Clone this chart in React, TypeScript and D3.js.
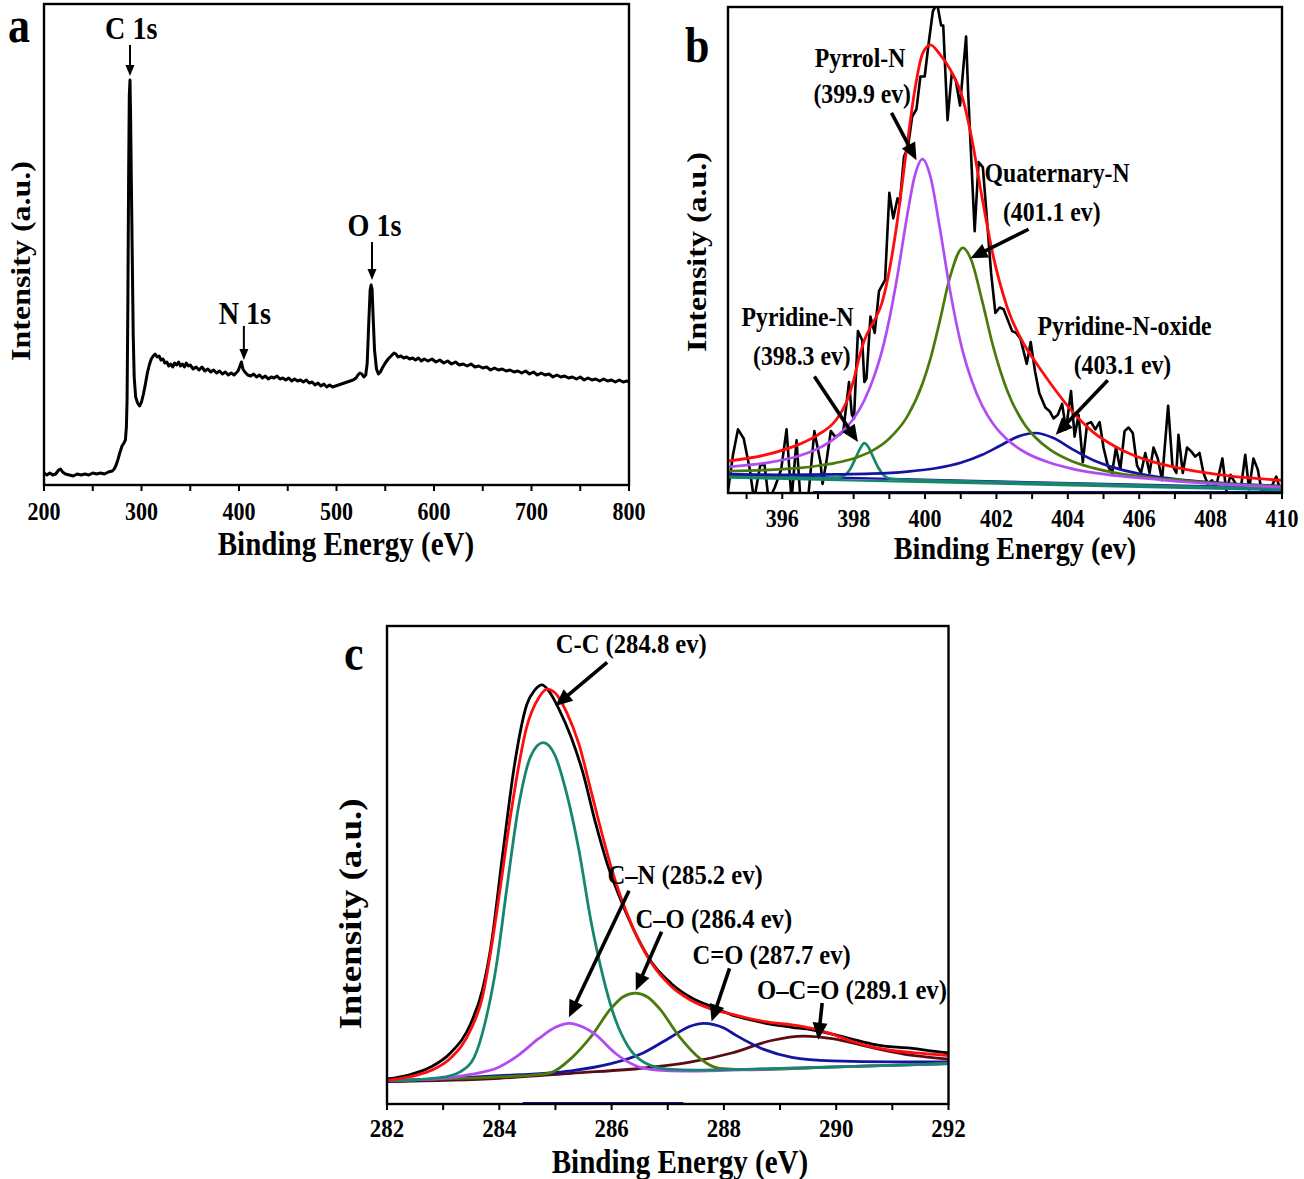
import React from 'react';
import * as d3 from 'd3';

type Pt = [number, number];

const FONT = "'Liberation Serif','Times New Roman',Times,serif";

// ---------- panel a : survey spectrum (binding energy eV, intensity a.u.) ----------
const surveyA: Pt[] = [
  [200, 12], [203, 10], [206, 12], [209, 10], [212, 11], [215, 15], [217, 16], [219, 13], [222, 11], [226, 10],
  [230, 9], [234, 11], [238, 10], [242, 11], [246, 10], [250, 12], [254, 11], [258, 12], [262, 11], [266, 13],
  [270, 14], [272, 16], [274, 20], [276, 26], [278, 33], [280, 39], [282, 42], [283.5, 45], [284.5, 58], [285.2, 85],
  [286, 180], [286.8, 310], [287.5, 390], [288.2, 405], [288.8, 370], [289.5, 310], [290.5, 230], [291.5, 150], [292.5, 108], [294, 88],
  [296, 82], [298, 79], [300, 83], [302, 91], [304, 101], [306, 112], [308, 120], [310, 126], [312, 129], [314, 131],
  [316, 128], [318, 129], [320, 125], [322, 126], [324, 122], [326, 123], [328, 119], [330, 121], [332, 118], [334, 122],
  [336, 120], [338, 123], [340, 119], [342, 121], [344, 118], [346, 122], [348, 119], [350, 120], [353, 116], [356, 118],
  [359, 115], [362, 118], [365, 114], [368, 116], [371, 113], [374, 115], [377, 112], [380, 114], [383, 111], [386, 113],
  [389, 110], [392, 112], [395, 110], [397, 112], [399, 114], [401, 119], [402.5, 123], [404, 116], [406, 113], [409, 110],
  [412, 109], [415, 111], [418, 108], [421, 110], [424, 107], [427, 109], [430, 106], [433, 108], [436, 107], [439, 109],
  [442, 106], [445, 107], [448, 105], [451, 107], [454, 104], [457, 106], [460, 104], [463, 105], [466, 103], [469, 105],
  [472, 102], [475, 103], [478, 100], [481, 102], [484, 99], [487, 101], [490, 98], [493, 100], [496, 98], [499, 99],
  [502, 100], [505, 101], [508, 102], [511, 103], [514, 104], [517, 105], [520, 107], [522, 110], [524, 112], [526, 111],
  [528, 108], [530, 110], [531.5, 122], [533, 160], [534.5, 195], [535.5, 200], [536.5, 196], [537.5, 170], [539, 135], [541, 116],
  [543, 111], [545, 113], [547, 117], [550, 122], [553, 126], [556, 129], [559, 132], [561, 131], [563, 128], [566, 129],
  [569, 127], [572, 128], [575, 126], [578, 127], [581, 125], [584, 127], [587, 124], [590, 126], [594, 124], [598, 126],
  [602, 123], [606, 125], [610, 122], [614, 124], [618, 121], [622, 123], [626, 120], [630, 121], [634, 119], [638, 121],
  [642, 118], [646, 119], [650, 117], [654, 118], [658, 115], [662, 117], [666, 115], [670, 116], [674, 114], [678, 115],
  [682, 113], [686, 114], [690, 112], [694, 114], [698, 111], [702, 113], [706, 110], [710, 112], [714, 110], [718, 111],
  [722, 108], [726, 110], [730, 108], [734, 109], [738, 107], [742, 108], [746, 106], [750, 108], [754, 105], [758, 107],
  [762, 105], [766, 106], [770, 104], [774, 106], [778, 104], [782, 105], [786, 103], [790, 105], [794, 103], [798, 104],
  [800, 103],
];

// ---------- panel b : N 1s ----------
const rawB: Pt[] = [
  [394.48, 5], [394.62, 105], [394.76, 175], [394.92, 150], [395.09, 65], [395.21, -20], [395.38, 75], [395.5, 80], [395.62, -20], [395.79, 15],
  [395.97, 65], [396.12, 175], [396.26, -20], [396.4, 145], [396.51, -20], [396.72, -20], [396.9, 170], [397.07, 85], [397.13, 25], [397.25, 95],
  [397.36, 170], [397.48, 155], [397.6, 160], [397.71, 170], [397.87, 305], [397.95, 215], [398.01, 205], [398.12, 445], [398.24, 420], [398.3, 305],
  [398.36, 315], [398.47, 485], [398.59, 440], [398.71, 555], [398.82, 575], [398.88, 585], [399.0, 825], [399.11, 755], [399.23, 810], [399.29, 795],
  [399.41, 925], [399.52, 950], [399.64, 1035], [399.76, 1055], [399.87, 1145], [399.99, 1145], [400.1, 1235], [400.22, 1325], [400.34, 1345], [400.45, 1285],
  [400.51, 1285], [400.63, 1025], [400.75, 1155], [400.86, 1135], [400.98, 1065], [401.15, 1255], [401.21, 1095], [401.39, 720], [401.5, 910], [401.62, 895],
  [401.74, 745], [401.85, 605], [401.97, 495], [402.09, 510], [402.2, 505], [402.44, 445], [402.55, 440], [402.67, 425], [402.85, 355], [402.96, 415],
  [403.08, 335], [403.2, 275], [403.37, 235], [403.49, 225], [403.6, 205], [403.72, 215], [403.84, 245], [403.95, 175], [404.09, 280], [404.19, 155],
  [404.3, 215], [404.42, 85], [404.54, 190], [404.65, 195], [404.77, 175], [404.89, 195], [405.0, 125], [405.12, 75], [405.24, 55], [405.35, 125],
  [405.47, 65], [405.59, 170], [405.7, 180], [405.82, 165], [405.94, 75], [406.05, 55], [406.17, 110], [406.29, 55], [406.4, 125], [406.52, 95],
  [406.64, 35], [406.81, 240], [406.93, 75], [407.04, 55], [407.1, 160], [407.22, 55], [407.34, 125], [407.45, 115], [407.57, 100], [407.69, 110],
  [407.8, 55], [407.92, 25], [408.04, 35], [408.15, 15], [408.33, 95], [408.44, 5], [408.56, 50], [408.73, 20], [408.85, 15], [408.97, 105],
  [409.08, 10], [409.2, 95], [409.32, 65], [409.43, 5], [409.67, 10], [409.84, 45], [409.96, 5],
];
const envelopeB: Pt[] = [
  [394.5, 88], [395.5, 104], [396.5, 135], [397.0, 160], [397.5, 200], [397.8, 250], [398.0, 310], [398.15, 370], [398.3, 420], [398.45, 452],
  [398.6, 478], [398.8, 525], [399.0, 612], [399.2, 732], [399.5, 958], [399.7, 1100], [399.93, 1208], [400.15, 1232], [400.4, 1208], [400.7, 1165],
  [401.06, 1083], [401.3, 979], [401.6, 811], [401.9, 656], [402.3, 511], [402.8, 404], [403.08, 362], [403.5, 303], [404.1, 227], [404.7, 168],
  [405.4, 124], [406.2, 91], [407.2, 67], [408.5, 47], [410, 35],
];
const pyrrolicB: Pt[] = [
  [394.5, 72], [395.5, 82], [396.5, 103], [397.0, 122], [397.5, 153], [397.8, 181], [398.0, 205], [398.3, 255], [398.6, 328], [398.8, 393],
  [399.0, 478], [399.2, 582], [399.5, 763], [399.7, 867], [399.93, 918], [400.15, 870], [400.4, 737], [400.7, 557], [401.06, 388], [401.3, 311],
  [401.6, 240], [401.9, 191], [402.3, 147], [402.8, 112], [403.5, 83], [404.1, 67], [404.7, 56], [405.4, 47], [406.2, 40], [407.2, 31],
  [408.5, 23], [410, 16],
];
const quaternaryB: Pt[] = [
  [394.5, 60], [395.5, 63], [396.5, 69], [397.0, 75], [397.5, 83], [398.0, 95], [398.5, 115], [399.0, 150], [399.5, 210], [399.93, 301],
  [400.15, 369], [400.4, 467], [400.7, 594], [401.06, 674], [401.3, 639], [401.6, 528], [401.9, 406], [402.3, 282], [402.8, 187], [403.08, 154],
  [403.5, 119], [404.1, 88], [404.7, 69], [405.4, 54], [406.2, 44], [407.2, 35], [408.5, 25], [410, 18],
];
const pyridinicB: Pt[] = [
  [394.5, 47], [395.5, 45], [396.5, 42], [397.0, 41], [397.5, 41], [397.7, 46], [397.9, 65], [398.05, 95], [398.18, 122], [398.3, 137],
  [398.42, 125], [398.55, 98], [398.7, 68], [398.85, 48], [399.0, 40], [399.3, 37], [400, 35], [402, 30], [404, 26], [406, 21],
  [408, 16], [410, 12],
];
const oxideB: Pt[] = [
  [394.5, 52], [396.0, 50], [397.5, 51], [398.5, 53], [399.5, 59], [400.3, 68], [401.0, 83], [401.6, 105], [402.1, 130], [402.6, 155],
  [403.08, 165], [403.6, 151], [404.1, 122], [404.7, 91], [405.4, 67], [406.2, 49], [407.2, 36], [408.5, 26], [410, 19],
];
const baseNavyB: Pt[] = [[394.5, 49], [410, 14]];
const baseTealB: Pt[] = [[394.5, 42], [410, 8]];
const floorB: Pt[] = [[396.86, 3], [410, 3]];

// ---------- panel c : C 1s ----------
const rawC: Pt[] = [
  [282.0, 70], [282.4, 82], [282.77, 103], [283.13, 143], [283.49, 225], [283.7, 320], [283.85, 440], [284.06, 700], [284.27, 950], [284.49, 1120],
  [284.63, 1160], [284.76, 1175], [284.88, 1158], [285.06, 1108], [285.28, 1028], [285.49, 928], [285.71, 790], [285.92, 675], [286.13, 585], [286.42, 480],
  [286.71, 398], [287.06, 338], [287.42, 298], [287.78, 273], [288.14, 250], [288.5, 235], [288.85, 223], [289.21, 215], [289.57, 208], [289.93, 196],
  [290.28, 182], [290.64, 168], [291.0, 160], [291.36, 156], [291.71, 148], [292.0, 143],
];
const envelopeC: Pt[] = [
  [282.0, 66], [282.4, 76], [282.77, 93], [283.13, 128], [283.49, 208], [283.7, 300], [283.85, 430], [284.03, 620], [284.2, 808], [284.49, 1058],
  [284.7, 1138], [284.85, 1163], [284.99, 1153], [285.2, 1098], [285.42, 1008], [285.63, 880], [285.85, 745], [285.99, 665], [286.35, 505], [286.71, 395],
  [287.06, 330], [287.42, 290], [287.78, 266], [288.14, 252], [288.5, 238], [288.85, 228], [289.21, 222], [289.57, 212], [289.93, 196], [290.28, 176],
  [290.64, 160], [291.0, 150], [291.36, 144], [292.0, 136],
];
const ccC: Pt[] = [
  [282.0, 66], [282.5, 68], [283.0, 75], [283.3, 90], [283.55, 130], [283.75, 230], [283.95, 390], [284.13, 600], [284.35, 840], [284.56, 975],
  [284.78, 1013], [284.99, 978], [285.2, 870], [285.42, 710], [285.63, 515], [285.85, 355], [286.06, 240], [286.3, 160], [286.6, 115], [287.0, 98],
  [287.5, 95], [288.5, 98], [290.0, 104], [292.0, 113],
];
const cnC: Pt[] = [
  [282.0, 66], [283.0, 72], [283.49, 83], [283.99, 103], [284.35, 138], [284.7, 183], [285.0, 215], [285.24, 226], [285.5, 215], [285.71, 195],
  [286.06, 143], [286.42, 108], [286.8, 95], [287.3, 92], [288.14, 95], [289.0, 99], [290.5, 106], [292.0, 113],
];
const coC: Pt[] = [
  [282.0, 66], [284.0, 76], [284.6, 81], [284.92, 88], [285.28, 128], [285.63, 188], [285.99, 268], [286.2, 300], [286.42, 311], [286.64, 300],
  [286.85, 268], [287.21, 188], [287.57, 128], [287.92, 100], [288.5, 96], [290.0, 104], [292.0, 113],
];
const c2oC: Pt[] = [
  [282.0, 63], [283.85, 78], [285.28, 93], [285.99, 113], [286.56, 143], [287.06, 188], [287.4, 218], [287.64, 226], [288.0, 213], [288.21, 193],
  [288.71, 153], [289.21, 131], [289.93, 121], [291.0, 118], [292.0, 118],
];
const occC: Pt[] = [
  [282.0, 63], [284.0, 72], [285.28, 86], [286.71, 103], [287.42, 118], [288.14, 143], [288.85, 178], [289.42, 190], [289.93, 183], [290.64, 158],
  [291.36, 136], [292.0, 126],
];
const floorC: Pt[] = [[284.42, 3], [287.28, 3]];

// tick values
const ticksA = d3.range(200, 801, 50);
const labelsA = d3.range(200, 801, 100);
const ticksB = d3.range(395, 411, 1);
const labelsB = d3.range(396, 411, 2);
const ticksC = d3.range(282, 293, 1);
const labelsC = d3.range(282, 293, 2);

const RED = '#ff0d0d';
const PURPLE = '#b14cf4';
const OLIVE = '#4a7a0c';
const TEAL = '#16876d';
const NAVY = '#1414a0';
const MAROON = '#5a0c14';

type Series = { data: Pt[]; color: string; width: number; smooth?: boolean };
type Note = { text: string; at: Pt; size: number };
type ArrowSpec = { from: Pt; to: Pt; lw: number; hl: number; hw: number };

type PanelProps = {
  id: string;
  box: { l: number; r: number; t: number; b: number };
  xDomain: [number, number];
  yDomain: [number, number];
  ticks: number[];
  tickLabels: number[];
  tickBase: number;
  tickSize: number;
  xTitle: string;
  xTitleAt: [number, number];
  xTitleSize: number;
  yTitleAt: [number, number];
  yTitleSize: number;
  letter: string;
  letterAt: [number, number];
  series: Series[];
  notes: Note[];
  arrows: ArrowSpec[];
};

const SX = 0.88;

const Txt: React.FC<{ x: number; y: number; size: number; anchor?: string; children: React.ReactNode }> = ({ x, y, size, anchor = 'middle', children }) => (
  <text
    transform={`translate(${x},${y}) scale(${SX},1)`}
    fontFamily={FONT}
    fontWeight="bold"
    fontSize={size}
    textAnchor={anchor}
    fill="#000"
  >
    {children}
  </text>
);

const Arrow: React.FC<{ x1: number; y1: number; x2: number; y2: number; lw: number; hl: number; hw: number }> = ({ x1, y1, x2, y2, lw, hl, hw }) => {
  const dx = x2 - x1;
  const dy = y2 - y1;
  const len = Math.hypot(dx, dy);
  const ux = dx / len;
  const uy = dy / len;
  const bx = x2 - ux * hl;
  const by = y2 - uy * hl;
  const px = -uy;
  const py = ux;
  return (
    <g>
      <line x1={x1} y1={y1} x2={bx + ux * 2} y2={by + uy * 2} stroke="#000" strokeWidth={lw} />
      <polygon points={`${x2},${y2} ${bx + px * hw},${by + py * hw} ${bx - px * hw},${by - py * hw}`} fill="#000" />
    </g>
  );
};

const Panel: React.FC<PanelProps> = (p) => {
  const { box } = p;
  const x = d3.scaleLinear().domain(p.xDomain).range([box.l, box.r]);
  const y = d3.scaleLinear().domain(p.yDomain).range([box.b, box.t]);
  const mk = (smooth?: boolean) =>
    d3
      .line<Pt>()
      .x((d) => x(d[0]))
      .y((d) => y(d[1]))
      .curve(smooth ? d3.curveMonotoneX : d3.curveLinear);

  return (
    <g>
      <clipPath id={`clip-${p.id}`}>
        <rect x={box.l} y={box.t} width={box.r - box.l} height={box.b - box.t} />
      </clipPath>
      <g clipPath={`url(#clip-${p.id})`}>
        {p.series.map((s, i) => (
          <path
            key={i}
            d={mk(s.smooth)(s.data) || ''}
            fill="none"
            stroke={s.color}
            strokeWidth={s.width}
            strokeLinejoin="round"
          />
        ))}
      </g>
      <rect x={box.l} y={box.t} width={box.r - box.l} height={box.b - box.t} fill="none" stroke="#000" strokeWidth={2.4} />
      {p.ticks.map((t) => (
        <line key={t} x1={x(t)} x2={x(t)} y1={box.b} y2={box.b + 6} stroke="#000" strokeWidth={2} />
      ))}
      {p.tickLabels.map((t) => (
        <Txt key={t} x={x(t)} y={p.tickBase} size={p.tickSize}>
          {t}
        </Txt>
      ))}
      <Txt x={p.xTitleAt[0]} y={p.xTitleAt[1]} size={p.xTitleSize}>
        {p.xTitle}
      </Txt>
      <text
        transform={`translate(${p.yTitleAt[0]},${p.yTitleAt[1]}) rotate(-90) scale(1,${SX})`}
        fontFamily={FONT}
        fontWeight="bold"
        fontSize={p.yTitleSize}
        textAnchor="middle"
      >
        Intensity (a.u.)
      </text>
      <Txt x={p.letterAt[0]} y={p.letterAt[1]} size={50} anchor="start">
        {p.letter}
      </Txt>
      {p.arrows.map((a, i) => (
        <Arrow key={i} x1={x(a.from[0])} y1={y(a.from[1])} x2={x(a.to[0])} y2={y(a.to[1])} lw={a.lw} hl={a.hl} hw={a.hw} />
      ))}
      {p.notes.map((n, i) => (
        <Txt key={i} x={x(n.at[0])} y={y(n.at[1])} size={n.size}>
          {n.text}
        </Txt>
      ))}
    </g>
  );
};

const thinArrow = { lw: 2, hl: 11, hw: 4.5 };
const bigArrow = { lw: 3.6, hl: 17, hw: 7.5 };

export default function App() {
  return (
    <svg
      width={1304}
      height={1179}
      viewBox="0 0 1304 1179"
      style={{ position: 'absolute', left: 0, top: 0, background: '#fff' }}
    >
      <rect width={1304} height={1179} fill="#fff" />
      <Panel
        id="a"
        box={{ l: 44, r: 629, t: 4, b: 485 }}
        xDomain={[200, 800]}
        yDomain={[0, 481]}
        ticks={ticksA}
        tickLabels={labelsA}
        tickBase={520}
        tickSize={25}
        xTitle="Binding Energy (eV)"
        xTitleAt={[346, 555]}
        xTitleSize={33}
        yTitleAt={[30, 261]}
        yTitleSize={32}
        letter="a"
        letterAt={[8, 42]}
        series={[{ data: surveyA, color: '#000', width: 3 }]}
        notes={[
          { text: 'C 1s', at: [289.5, 446], size: 32 },
          { text: 'N 1s', at: [406, 161], size: 32 },
          { text: 'O 1s', at: [539, 249], size: 32 },
        ]}
        arrows={[
          { from: [288.2, 440], to: [288.2, 409], ...thinArrow },
          { from: [405, 159], to: [405, 125], ...thinArrow },
          { from: [536.4, 243], to: [536.4, 205], ...thinArrow },
        ]}
      />
      <Panel
        id="b"
        box={{ l: 728, r: 1282, t: 7, b: 493 }}
        xDomain={[394.48, 410]}
        yDomain={[0, 1336]}
        ticks={ticksB}
        tickLabels={labelsB}
        tickBase={527}
        tickSize={25}
        xTitle="Binding Energy (ev)"
        xTitleAt={[1015, 559]}
        xTitleSize={32}
        yTitleAt={[706, 252]}
        yTitleSize={32}
        letter="b"
        letterAt={[685, 62]}
        series={[
          { data: rawB, color: '#000', width: 2.6 },
          { data: floorB, color: NAVY, width: 2 },
          { data: baseTealB, color: TEAL, width: 2.2 },
          { data: baseNavyB, color: NAVY, width: 2.2 },
          { data: pyridinicB, color: TEAL, width: 2.7, smooth: true },
          { data: oxideB, color: NAVY, width: 2.7, smooth: true },
          { data: quaternaryB, color: OLIVE, width: 2.7, smooth: true },
          { data: pyrrolicB, color: PURPLE, width: 2.7, smooth: true },
          { data: envelopeB, color: RED, width: 2.8, smooth: true },
        ]}
        notes={[
          { text: 'Pyrrol-N', at: [398.18, 1170], size: 27 },
          { text: '(399.9 ev)', at: [398.24, 1072], size: 27 },
          { text: 'Quaternary-N', at: [403.7, 855], size: 27 },
          { text: '(401.1 ev)', at: [403.55, 747], size: 27 },
          { text: 'Pyridine-N', at: [396.43, 460], size: 27 },
          { text: '(398.3 ev)', at: [396.55, 352], size: 27 },
          { text: 'Pyridine-N-oxide', at: [405.59, 435], size: 27 },
          { text: '(403.1 ev)', at: [405.53, 327], size: 27 },
        ]}
        arrows={[
          { from: [399.06, 1045], to: [399.76, 915], ...bigArrow },
          { from: [402.9, 725], to: [401.27, 645], ...bigArrow },
          { from: [396.9, 320], to: [398.12, 140], ...bigArrow },
          { from: [405.12, 310], to: [403.66, 160], ...bigArrow },
        ]}
      />
      <Panel
        id="c"
        box={{ l: 387, r: 948.5, t: 626, b: 1104 }}
        xDomain={[282, 292]}
        yDomain={[0, 1340]}
        ticks={ticksC}
        tickLabels={labelsC}
        tickBase={1137}
        tickSize={26}
        xTitle="Binding Energy (eV)"
        xTitleAt={[680, 1173]}
        xTitleSize={33}
        yTitleAt={[361, 914]}
        yTitleSize={37}
        letter="c"
        letterAt={[344, 670]}
        series={[
          { data: floorC, color: NAVY, width: 2 },
          { data: occC, color: MAROON, width: 2.8, smooth: true },
          { data: c2oC, color: NAVY, width: 2.8, smooth: true },
          { data: coC, color: OLIVE, width: 2.8, smooth: true },
          { data: cnC, color: PURPLE, width: 2.8, smooth: true },
          { data: ccC, color: TEAL, width: 2.8, smooth: true },
          { data: rawC, color: '#000', width: 2.8, smooth: true },
          { data: envelopeC, color: RED, width: 2.8, smooth: true },
        ]}
        notes={[
          { text: 'C-C (284.8 ev)', at: [286.35, 1263], size: 28 },
          { text: 'C\u2013N (285.2 ev)', at: [287.31, 618], size: 28 },
          { text: 'C\u2013O (286.4 ev)', at: [287.82, 493], size: 28 },
          { text: 'C=O (287.7 ev)', at: [288.85, 393], size: 28 },
          { text: 'O\u2013C=O (289.1 ev)', at: [290.28, 293], size: 28 },
        ]}
        arrows={[
          { from: [285.92, 1238], to: [285.0, 1116], ...bigArrow },
          { from: [286.31, 598], to: [285.24, 243], ...bigArrow },
          { from: [286.89, 483], to: [286.43, 318], ...bigArrow },
          { from: [288.1, 380], to: [287.78, 231], ...bigArrow },
          { from: [289.75, 283], to: [289.68, 180], ...bigArrow },
        ]}
      />
    </svg>
  );
}
